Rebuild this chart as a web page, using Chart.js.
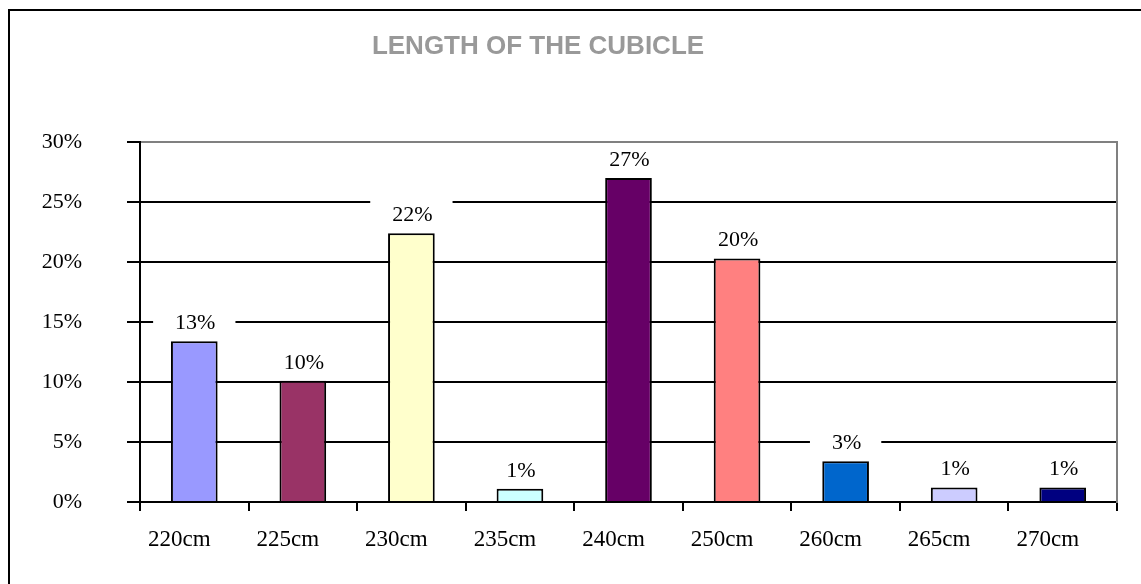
<!DOCTYPE html>
<html>
<head>
<meta charset="utf-8">
<script src="https://cdn.jsdelivr.net/npm/chart.js@4"></script>
<style>
  html, body { margin: 0; padding: 0; background: #fff; overflow: hidden; }
  #frame { position: absolute; left: 8px; top: 9px; width: 1300px; height: 700px; border: 2px solid #000; }
  #wrap { position: absolute; left: 0; top: 0; width: 1141px; height: 584px; }
</style>
</head>
<body>
<div id="frame"></div>
<div id="wrap"><canvas id="cubicle" width="1141" height="584"></canvas></div>
<script>
  const chartTitle = 'LENGTH OF THE CUBICLE';
  const lengths = ['220cm', '225cm', '230cm', '235cm', '240cm', '250cm', '260cm', '265cm', '270cm'];
  const shares = [13.4, 10.1, 22.4, 1.1, 27.0, 20.3, 3.4, 1.2, 1.2];
  const barColors = ['#9999FF', '#993366', '#FFFFCC', '#CCFFFF', '#660066', '#FF8080', '#0066CC', '#CCCCFF', '#000080'];
  const yMax = 30;
  const yStep = 5;

  const serif = '"Liberation Serif", "Times New Roman", serif';

  // title sits a bit left of the plot centre, like in the original sheet
  const titlePlugin = {
    id: 'cubicleTitle',
    afterDraw(chart) {
      const ctx = chart.ctx;
      ctx.save();
      ctx.font = 'bold 26px "Liberation Sans", Arial, sans-serif';
      ctx.fillStyle = '#999999';
      ctx.textAlign = 'center';
      ctx.textBaseline = 'alphabetic';
      ctx.fillText(chartTitle, 538, 54);
      ctx.restore();
    }
  };

  // value labels on white boxes, drawn over the grid but under the bars
  const barLabels = {
    id: 'barLabels',
    beforeDatasetsDraw(chart) {
      const ctx = chart.ctx;
      const meta = chart.getDatasetMeta(0);
      ctx.save();
      ctx.font = '22px ' + serif;
      ctx.textAlign = 'center';
      ctx.textBaseline = 'middle';
      meta.data.forEach((bar, i) => {
        const text = Math.round(shares[i]) + '%';
        const w = ctx.measureText(text).width + 42;
        const cy = bar.y - 18;
        ctx.fillStyle = '#fff';
        ctx.fillRect(bar.x - w / 2, cy - 16, w, 32);
        ctx.fillStyle = '#000';
        ctx.fillText(text, bar.x + 1, cy);
      });
      ctx.restore();
    }
  };

  Chart.defaults.font.family = serif;
  Chart.defaults.color = '#000';

  new Chart(document.getElementById('cubicle'), {
    type: 'bar',
    data: {
      labels: lengths,
      datasets: [{
        label: chartTitle,
        data: shares,
        backgroundColor: barColors,
        borderColor: '#000',
        borderWidth: 2,
        barPercentage: 0.43,
        categoryPercentage: 1,
        yAxisID: 'y'
      }]
    },
    options: {
      responsive: false,
      animation: false,
      devicePixelRatio: 1,
      layout: { padding: { top: 142, right: 24, bottom: 0, left: 0 } },
      plugins: {
        legend: { display: false },
        tooltip: { enabled: false }
      },
      scales: {
        x: {
          offset: true,
          grid: { offset: true, drawOnChartArea: false, color: '#000', lineWidth: 2, tickLength: 9 },
          border: { color: '#000', width: 2 },
          ticks: { font: { size: 23 }, padding: 15, labelOffset: -15, maxRotation: 0, autoSkip: false },
          afterFit(s) { s.height = 82; }
        },
        y: {
          min: 0,
          max: yMax,
          ticks: { stepSize: yStep, callback: v => v + '%', font: { size: 22 }, padding: 45 },
          grid: {
            color: c => (c.tick && c.tick.value === yMax ? '#808080' : '#000'),
            tickColor: '#000',
            lineWidth: 2,
            tickLength: 13
          },
          border: { color: '#000', width: 2 },
          afterFit(s) { s.width = 140; }
        },
        y2: {
          position: 'right',
          ticks: { display: false },
          grid: { drawOnChartArea: false, drawTicks: false },
          border: { color: '#808080', width: 2 },
          afterFit(s) { s.width = 0; }
        }
      }
    },
    plugins: [barLabels, titlePlugin]
  });
</script>
</body>
</html>
